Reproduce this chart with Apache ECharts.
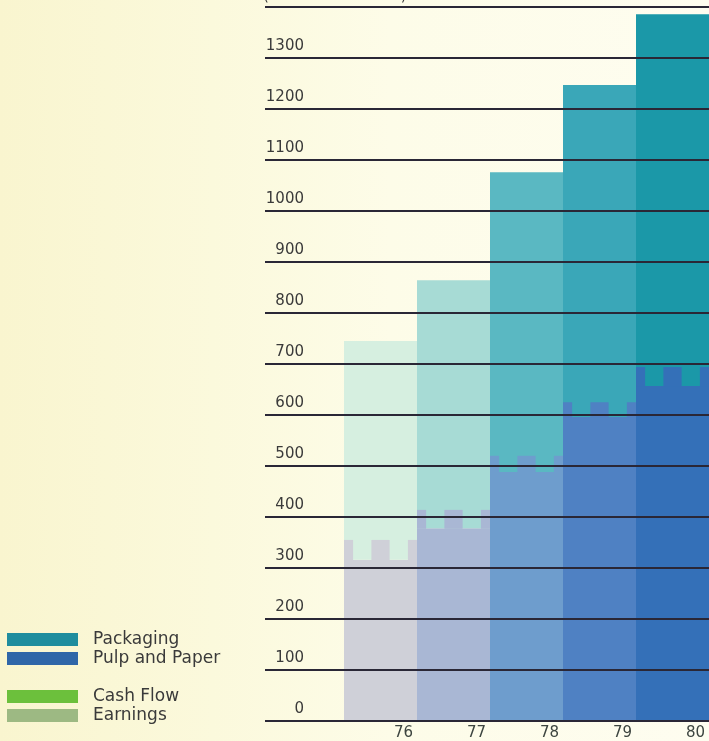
<!DOCTYPE html>
<html>
<head>
<meta charset="utf-8">
<script src="https://cdn.jsdelivr.net/npm/echarts@6/dist/echarts.min.js"></script>
<style>
  html, body { margin: 0; padding: 0; }
  #chart {
    width: 709px; height: 741px;
    background: linear-gradient(90deg, #f9f5cf 0%, #fbf9dc 30%, #fdfce8 55%, #fefdf0 100%);
  }
</style>
</head>
<body>
<div id="chart"></div>
<script>
// Fiscal years on the category axis
const years = ['76', '77', '78', '79', '80'];
// Sales by segment, millions of dollars
const pulpAndPaper = [316, 378, 488, 596, 657];
const packaging = [429, 486, 588, 651, 729];
// Height of the battlement crest on top of each Pulp and Paper block
const crestHeight = [39, 36, 32, 29, 37];
// Value axis range
const axisMin = 0;
const axisMax = 1400;
const axisStep = 100;

// Shading deepens year by year
const packagingShades = ['#d6efe0', '#a7dbd5', '#5ab8c2', '#3aa7b8', '#1b98a8'];
const pulpShades = ['#cfd0d8', '#a9b7d4', '#6e9dcd', '#4f81c3', '#3470b8'];
const legendColors = {
  'Packaging': '#1f8d9e',
  'Pulp and Paper': '#2f66a8',
  'Cash Flow': '#6cc03c',
  'Earnings': '#9db983'
};

const font = '"DejaVu Sans", "Liberation Sans", sans-serif';
const chart = echarts.init(document.getElementById('chart'), null, { renderer: 'canvas' });

const crestSeries = {
  name: 'Pulp and Paper',
  type: 'custom',
  xAxisIndex: 1,
  yAxisIndex: 1,
  z: 3,
  data: years.map((y, i) => [i, pulpAndPaper[i], crestHeight[i]]),
  renderItem: function (params, api) {
    const idx = api.value(0);
    const base = api.value(1);
    const crest = api.value(2);
    const w = api.size([1, 0])[0];
    const pBase = api.coord([idx, base]);
    const pTop = api.coord([idx, base + crest]);
    const left = pBase[0] - w / 2;
    const h = pBase[1] - pTop[1];
    const color = pulpShades[idx];
    const spans = [[0, 1 / 8], [3 / 8, 5 / 8], [7 / 8, 1]];
    return {
      type: 'group',
      children: spans.map(s => ({
        type: 'rect',
        shape: { x: left + s[0] * w, y: pTop[1], width: (s[1] - s[0]) * w, height: h + 0.5 },
        style: { fill: color }
      }))
    };
  }
};

const legendText = { fontFamily: font, fontSize: 17, lineHeight: 16, color: '#3a3a3a', padding: [0, 0, 0, 10] };

const option = {
  animation: false,
  backgroundColor: 'transparent',
  title: {
    text: '(millions of dollars)',
    left: 263,
    top: -11,
    padding: 0,
    textStyle: { fontFamily: font, fontSize: 15, fontWeight: 'normal', color: '#3a3a3a' }
  },
  legend: [
    {
      orient: 'vertical',
      left: 7,
      top: 631,
      padding: 0,
      itemWidth: 71,
      itemHeight: 13,
      itemGap: 2,
      icon: 'rect',
      selectedMode: false,
      textStyle: legendText,
      data: ['Packaging', 'Pulp and Paper'].map(n => ({ name: n, itemStyle: { color: legendColors[n] } }))
    },
    {
      orient: 'vertical',
      left: 7,
      top: 688,
      padding: 0,
      itemWidth: 71,
      itemHeight: 13,
      itemGap: 2,
      icon: 'rect',
      selectedMode: false,
      textStyle: legendText,
      data: ['Cash Flow', 'Earnings'].map(n => ({ name: n, itemStyle: { color: legendColors[n] } }))
    }
  ],
  grid: [
    { left: 265, right: 0, top: 7, bottom: 20 },
    { left: 344, right: -3, top: 7, bottom: 20 }
  ],
  xAxis: [
    { gridIndex: 0, type: 'value', min: 0, max: 1, show: false },
    {
      gridIndex: 1,
      type: 'category',
      data: years,
      axisLine: { show: false },
      axisTick: { show: false },
      axisLabel: {
        margin: 5,
        padding: [0, 0, 0, 46],
        fontFamily: font,
        fontSize: 15,
        color: '#3d4540'
      }
    }
  ],
  yAxis: [
    {
      gridIndex: 0,
      type: 'value',
      min: axisMin,
      max: axisMax,
      interval: axisStep,
      z: 10,
      axisLine: { show: false },
      axisTick: { show: false },
      splitLine: { lineStyle: { color: '#2a2736', width: 2 } },
      axisLabel: {
        inside: true,
        align: 'right',
        verticalAlign: 'bottom',
        margin: 39,
        padding: [0, 0, 4, 0],
        showMaxLabel: false,
        formatter: v => String(v),
        fontFamily: font,
        fontSize: 15,
        color: '#3a3a3a'
      }
    },
    {
      gridIndex: 1,
      type: 'value',
      min: axisMin,
      max: axisMax,
      interval: axisStep,
      show: false,
      splitLine: { show: false }
    }
  ],
  series: [
    {
      name: 'Pulp and Paper',
      type: 'bar',
      xAxisIndex: 1,
      yAxisIndex: 1,
      stack: 'sales',
      barWidth: '100%',
      barCategoryGap: 0,
      data: pulpAndPaper.map((v, i) => ({ value: v, itemStyle: { color: pulpShades[i] } }))
    },
    {
      name: 'Packaging',
      type: 'bar',
      xAxisIndex: 1,
      yAxisIndex: 1,
      stack: 'sales',
      barWidth: '100%',
      data: packaging.map((v, i) => ({ value: v, itemStyle: { color: packagingShades[i] } }))
    },
    crestSeries,
    // Legend-only entries for the companion cash flow chart
    { name: 'Cash Flow', type: 'line', xAxisIndex: 0, yAxisIndex: 0, data: [] },
    { name: 'Earnings', type: 'line', xAxisIndex: 0, yAxisIndex: 0, data: [] }
  ]
};

chart.setOption(option);
</script>
</body>
</html>
